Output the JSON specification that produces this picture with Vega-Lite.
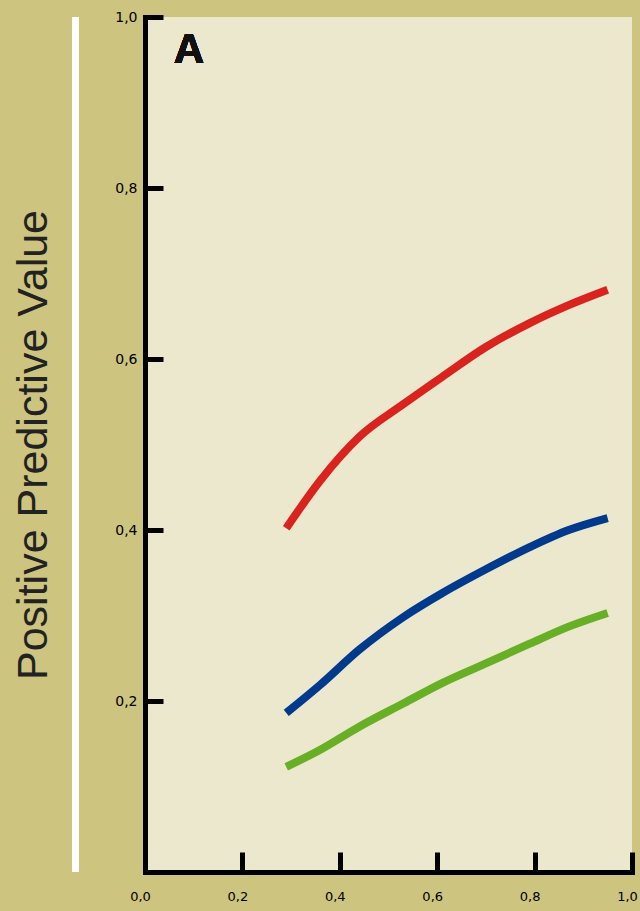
{
  "$schema": "https://vega.github.io/schema/vega-lite/v6.json",
  "width": 487,
  "height": 855,
  "autosize": {"type": "none"},
  "padding": {"left": 145, "top": 17, "right": 8, "bottom": 39},
  "background": "#cdc47f",
  "view": {"fill": "#ece8cd", "stroke": null},
  "data": {
    "values": [
      {"series": "red", "x": 0.29, "y": 0.402},
      {"series": "red", "x": 0.36, "y": 0.458},
      {"series": "red", "x": 0.44, "y": 0.509},
      {"series": "red", "x": 0.53, "y": 0.547},
      {"series": "red", "x": 0.61, "y": 0.579},
      {"series": "red", "x": 0.70, "y": 0.614},
      {"series": "red", "x": 0.79, "y": 0.642},
      {"series": "red", "x": 0.87, "y": 0.663},
      {"series": "red", "x": 0.95, "y": 0.681},
      {"series": "blue", "x": 0.29, "y": 0.186},
      {"series": "blue", "x": 0.36, "y": 0.219},
      {"series": "blue", "x": 0.44, "y": 0.260},
      {"series": "blue", "x": 0.53, "y": 0.298},
      {"series": "blue", "x": 0.61, "y": 0.326},
      {"series": "blue", "x": 0.70, "y": 0.354},
      {"series": "blue", "x": 0.79, "y": 0.380},
      {"series": "blue", "x": 0.87, "y": 0.400},
      {"series": "blue", "x": 0.95, "y": 0.414},
      {"series": "green", "x": 0.29, "y": 0.123},
      {"series": "green", "x": 0.36, "y": 0.143},
      {"series": "green", "x": 0.44, "y": 0.170},
      {"series": "green", "x": 0.53, "y": 0.197},
      {"series": "green", "x": 0.61, "y": 0.221},
      {"series": "green", "x": 0.70, "y": 0.244},
      {"series": "green", "x": 0.79, "y": 0.267},
      {"series": "green", "x": 0.87, "y": 0.287},
      {"series": "green", "x": 0.95, "y": 0.303}
    ]
  },
  "layer": [
    {
      "mark": {"type": "rule", "color": "#ffffff", "strokeWidth": 6, "clip": false},
      "encoding": {
        "x": {"datum": -0.143, "type": "quantitative", "scale": {"domain": [0, 1]}},
        "y": {"datum": 0, "type": "quantitative"},
        "y2": {"datum": 1}
      }
    },
    {
      "mark": {"type": "line", "strokeWidth": 8, "strokeCap": "butt", "interpolate": "monotone"},
      "encoding": {
        "x": {
          "field": "x", "type": "quantitative",
          "scale": {"domain": [0, 1], "nice": false, "zero": false},
          "axis": {
            "title": null,
            "values": [0, 0.2, 0.4, 0.6, 0.8, 1.0],
            "labelExpr": "replace(format(datum.value, '.1f'), '.', ',')",
            "grid": false,
            "domainColor": "#000000", "domainWidth": 5, "domainCap": "square",
            "tickColor": "#000000", "tickWidth": 5, "tickSize": -20,
            "labelColor": "#000000", "labelFontSize": 13, "labelFont": "DejaVu Sans",
            "labelPadding": 38, "labelFlush": false, "labelOffset": -5
          }
        },
        "y": {
          "field": "y", "type": "quantitative",
          "scale": {"domain": [0, 1], "nice": false, "zero": true},
          "axis": {
            "title": "Positive Predictive Value",
            "titleFont": "Liberation Sans", "titleFontSize": 43, "titleFontWeight": "normal",
            "titleColor": "#222222", "titleBaseline": "alphabetic", "titleAngle": -90,
            "titleX": -99, "titleAnchor": "middle",
            "values": [0.2, 0.4, 0.6, 0.8, 1.0],
            "labelExpr": "replace(format(datum.value, '.1f'), '.', ',')",
            "grid": false,
            "domainColor": "#000000", "domainWidth": 5, "domainCap": "square",
            "tickColor": "#000000", "tickWidth": 5, "tickSize": -18,
            "labelColor": "#000000", "labelFontSize": 14, "labelFont": "DejaVu Sans",
            "labelPadding": 26, "labelFlush": false
          }
        },
        "color": {
          "field": "series", "type": "nominal",
          "scale": {"domain": ["red", "blue", "green"], "range": ["#d9231f", "#003a8c", "#67b026"]},
          "legend": null
        }
      }
    },
    {
      "mark": {"type": "text", "text": "A", "font": "Liberation Sans", "fontSize": 42, "fontWeight": "bold", "align": "center", "baseline": "alphabetic", "color": "#111111"},
      "encoding": {
        "x": {"datum": 0.09, "type": "quantitative"},
        "y": {"datum": 0.946, "type": "quantitative"}
      }
    }
  ]
}
